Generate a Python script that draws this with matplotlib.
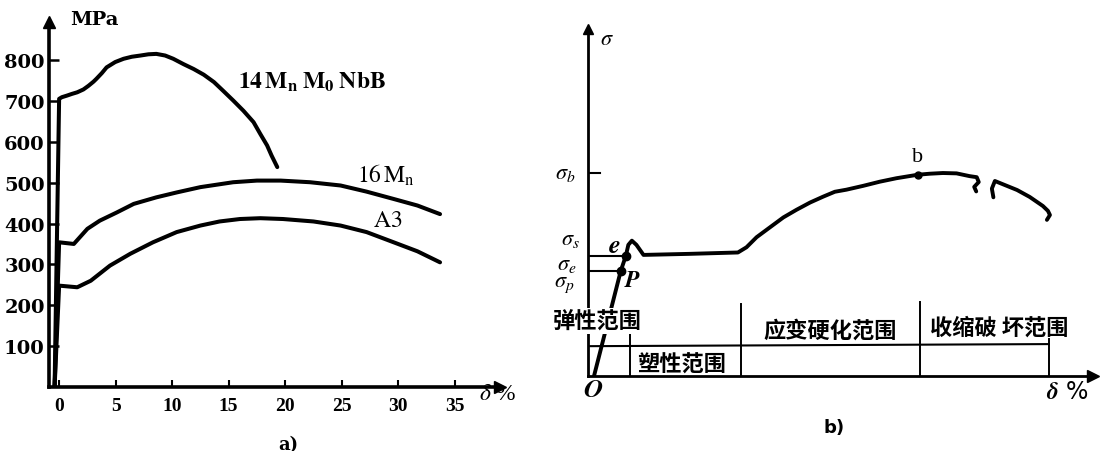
import numpy as np
import matplotlib
matplotlib.use("Agg")
import matplotlib.pyplot as plt

plt.rcParams['mathtext.fontset'] = 'stix'

# a) curvas esfuerzo-deformacion de tres aceros (MPa vs delta %)
x_14mn = [-0.4, 0.0, 0.24, 0.7, 1.12, 1.6, 2.15, 2.6, 3.04, 3.3, 3.78, 4.2, 4.96, 5.7,
          6.43, 7.2, 7.9, 8.6, 9.38, 10.1, 11.0, 11.9, 12.8, 13.7, 14.5, 15.4,
          16.3, 17.2, 17.8, 18.4, 18.8, 19.3]
y_14mn = [0, 705, 709, 713, 717, 721, 728, 737, 747, 754, 768, 782, 795, 803,
          808, 811, 814, 815, 811, 803, 790, 778, 764, 746, 725, 701,
          676, 648, 619, 591, 566, 538]

x_16mn = [-0.4, 0.0, 1.3, 2.5, 3.6, 5.1, 6.6, 8.6, 10.4, 12.5, 15.4, 17.5, 19.6,
          22.2, 24.9, 27.2, 29.6, 31.7, 33.7]
y_16mn = [0, 354, 350, 387, 407, 427, 448, 464, 476, 489, 501, 505, 505,
          501, 493, 478, 460, 444, 423]

x_a3 = [-0.4, 0.0, 1.6, 2.8, 4.5, 6.3, 8.3, 10.4, 12.5, 14.2, 16.0, 17.8, 19.8,
        22.5, 24.9, 27.2, 29.6, 31.7, 33.7]
y_a3 = [0, 248, 244, 260, 297, 326, 354, 379, 395, 405, 411, 413, 411,
        405, 395, 379, 354, 332, 305]

xticks_a = [0, 5, 10, 15, 20, 25, 30, 35]
yticks_a = [100, 200, 300, 400, 500, 600, 700, 800]

# b) diagrama esquematico (unidades arbitrarias)
curva_x = [1.2, 6.5, 7.5, 8.0, 8.7, 9.6, 11.0, 20.0, 29.7, 31.4, 33.4, 36.0, 38.7,
           41.3, 44.0, 46.6, 48.9, 51.2, 54.5, 57.8, 61.1, 65.3, 67.7, 70.3, 73.0,
           75.6, 77.0, 77.4, 76.5, 76.9]
curva_y = [0, 30.3, 34.6, 37.8, 39.0, 37.8, 34.9, 35.2, 35.6, 37.1, 40.0, 42.8, 45.7,
           47.9, 50.0, 51.7, 53.1, 53.7, 54.8, 56.0, 57.0, 58.0, 58.3, 58.5, 58.4,
           57.6, 57.3, 55.9, 54.5, 53.2]
rotura_x = [80.3, 80.0, 80.6, 85.0, 87.5, 90.1, 91.1, 91.5, 90.9]
rotura_y = [51.5, 54.0, 56.2, 53.6, 51.6, 49.0, 47.6, 46.4, 45.0]

punto_p = (6.5, 30.3)
punto_e = (7.5, 34.6)
punto_b = (65.3, 58.0)
sigma_b = 58.6

barra_x = [0, 91.3]
barra_y = [8.6, 9.2]
divisiones_x = [8.3, 30.3, 65.7, 91.3]
divisiones_top = [12.1, 20.7, 21.3, 10.7]

fig = plt.figure(figsize=(11, 4.52), dpi=100)

# ---------------- panel a ----------------
ax = fig.add_axes([0.0445, 0.1416, 0.41, 0.8075])
lw = 2.9
ax.plot(x_14mn, y_14mn, 'k-', lw=lw, solid_capstyle='round', solid_joinstyle='round')
ax.plot(x_16mn, y_16mn, 'k-', lw=lw, solid_capstyle='round', solid_joinstyle='round')
ax.plot(x_a3, y_a3, 'k-', lw=lw, solid_capstyle='round', solid_joinstyle='round')

ax.set_xlim(-0.9, 39.0)
ax.set_ylim(0, 893)
for s in ['top', 'right']:
    ax.spines[s].set_visible(False)
for s in ['left', 'bottom']:
    ax.spines[s].set_linewidth(2.6)

ax.set_xticks(xticks_a)
ax.set_xticklabels([str(v) for v in xticks_a], family='Liberation Serif',
                   weight='bold', fontsize=14)
ax.set_yticks(yticks_a)
ax.set_yticklabels([str(v) for v in yticks_a], family='DejaVu Serif',
                   weight='bold', fontsize=14)
ax.tick_params(axis='x', direction='in', length=5, width=1.5, pad=7)
ax.tick_params(axis='y', direction='in', length=7, width=1.8, pad=3)

# flechas de los ejes
ax.plot([-0.9], [893], marker='^', color='k', markersize=9, clip_on=False)
ax.plot([39.0], [0], marker='>', color='k', markersize=9, clip_on=False)

ax.text(3.1, 900, 'MPa', family='DejaVu Serif', weight='bold', fontsize=14,
        ha='center', va='center', clip_on=False)
ax.text(22.4, 749, r'$\mathbf{14\,M_{n}\;M_{0}\;NbB}$', fontsize=17,
        ha='center', va='center')
ax.text(28.9, 521, r'$\mathrm{16\,M_{n}}$', fontsize=17, ha='center', va='center')
ax.text(29.1, 411, r'$\mathrm{A3}$', fontsize=17, ha='center', va='center')
ax.text(38.8, -17, r'$\delta$ %', fontsize=17, family='Liberation Serif',
        ha='center', va='center', clip_on=False)
ax.text(20.3, -139, 'a)', family='DejaVu Serif', weight='bold', fontsize=13,
        ha='center', va='center', clip_on=False)

# ---------------- panel b ----------------
bx = fig.add_axes([0.5345, 0.1659, 0.459, 0.7677])
bx.set_xlim(0, 100)
bx.set_ylim(0, 100)
for s in ['top', 'right']:
    bx.spines[s].set_visible(False)
for s in ['left', 'bottom']:
    bx.spines[s].set_linewidth(2.0)
bx.set_xticks([])
bx.set_yticks([])

bx.plot(curva_x, curva_y, 'k-', lw=2.8, solid_capstyle='round', solid_joinstyle='round')
bx.plot(rotura_x, rotura_y, 'k-', lw=2.8, solid_capstyle='round', solid_joinstyle='round')

# lineas horizontales sigma_s y sigma_e
bx.plot([0, punto_e[0]], [punto_e[1], punto_e[1]], 'k-', lw=1.5)
bx.plot([0, punto_p[0]], [punto_p[1], punto_p[1]], 'k-', lw=1.5)
bx.plot([0, 2.4], [sigma_b, sigma_b], 'k-', lw=1.5)

bx.plot(*punto_e, 'ko', markersize=6)
bx.plot(*punto_p, 'ko', markersize=6)
bx.plot(*punto_b, 'ko', markersize=5)

# barras de rangos
bx.plot(barra_x, barra_y, 'k-', lw=1.5)
for xd, top in zip(divisiones_x, divisiones_top):
    bx.plot([xd, xd], [0, top], 'k-', lw=1.4)

# flechas
bx.plot([0], [100], marker='^', color='k', markersize=7, clip_on=False)
bx.plot([100], [0], marker='>', color='k', markersize=8, clip_on=False)

cjk = ['Noto Sans CJK SC', 'DejaVu Sans']
bx.text(1.9, 15.9, '弹性范围', family=cjk, weight='bold', fontsize=16,
        ha='center', va='center', zorder=10, clip_on=False,
        bbox=dict(facecolor='white', edgecolor='none', pad=1))
bx.text(18.6, 3.5, '塑性范围', family=cjk, weight='bold', fontsize=16,
        ha='center', va='center')
bx.text(47.9, 13.3, '应变硬化范围', family=cjk, weight='bold', fontsize=16,
        ha='center', va='center')
bx.text(81.4, 14.1, '收缩破 坏范围', family=cjk, weight='bold', fontsize=16,
        ha='center', va='center')

bx.text(3.8, 97.4, r'$\sigma$', fontsize=16, ha='center', va='center', clip_on=False)
bx.text(-2.4, sigma_b, r'$\sigma_{b}$', fontsize=16, ha='right', va='center', clip_on=False)
bx.text(-1.6, 39.5, r'$\sigma_{s}$', fontsize=16, ha='right', va='center', clip_on=False)
bx.text(-2.2, 32.3, r'$\sigma_{e}$', fontsize=16, ha='right', va='center', clip_on=False)
bx.text(-2.6, 26.5, r'$\sigma_{p}$', fontsize=16, ha='right', va='center', clip_on=False)
bx.text(5.3, 37.8, r'$\boldsymbol{e}$', fontsize=19, ha='center', va='center')
bx.text(8.9, 28.0, r'$\boldsymbol{P}$', fontsize=17, ha='center', va='center')
bx.text(65.3, 63.4, 'b', family='Liberation Serif', fontsize=16, ha='center', va='center')
bx.text(1.0, -3.7, r'$\boldsymbol{O}$', fontsize=19, ha='center', va='center', clip_on=False)
bx.text(95.0, -4.3, r'$\boldsymbol{\delta}$ %', fontsize=17, ha='center', va='center',
        clip_on=False)
bx.text(48.7, -14.7, 'b)', family='DejaVu Sans', weight='bold', fontsize=13,
        ha='center', va='center', clip_on=False)

fig.savefig('out.png', dpi=100)
plt.close(fig)
